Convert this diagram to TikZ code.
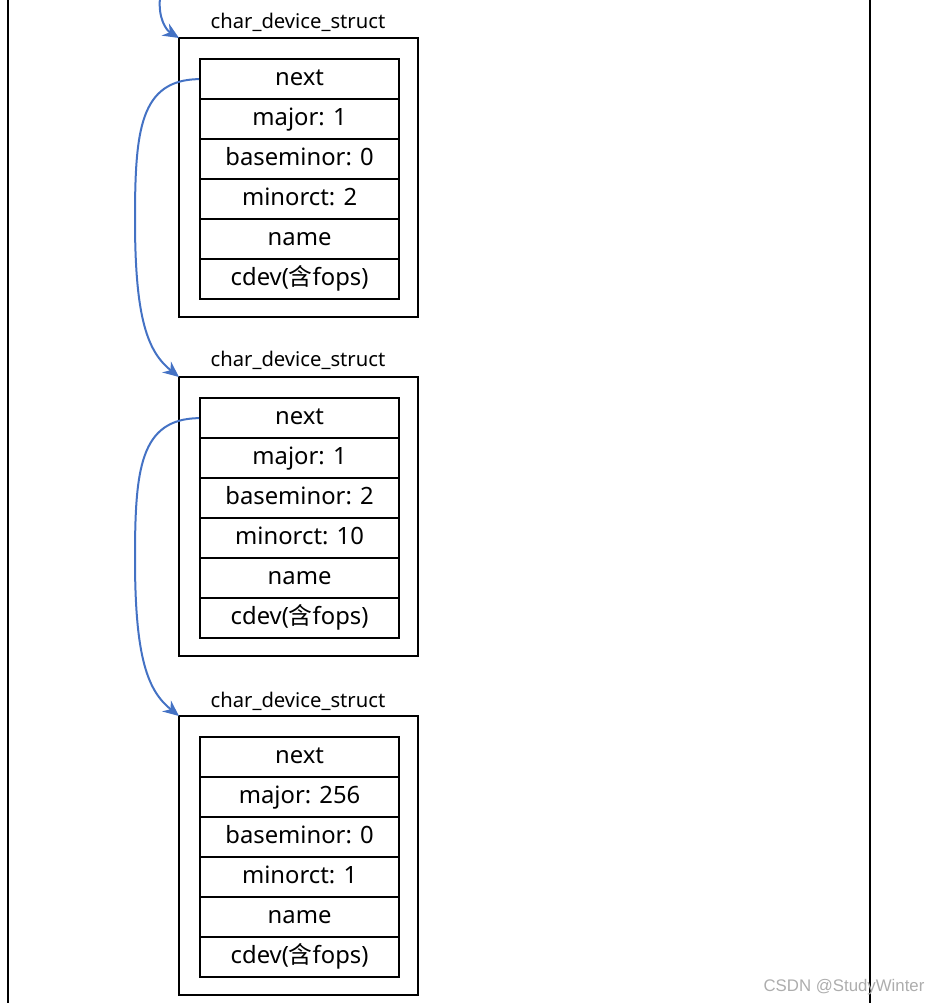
\documentclass[tikz,border=0pt]{standalone}
\usepackage{fontspec}
\setmainfont{Noto Sans}
\newfontfamily\cjk{Noto Sans CJK SC}
\newfontfamily\wmfont{Liberation Sans}
\usetikzlibrary{arrows.meta}
\definecolor{arrowblue}{HTML}{4472C4}
\tikzset{
  cell/.style={draw=black, line width=2.2pt, minimum width=199pt, minimum height=40pt, inner sep=0pt, text height=17pt, text depth=5pt, font=\fontsize{23.8}{25}\selectfont, anchor=north west},
  outerbox/.style={draw=black, line width=2.6pt},
  title/.style={font=\fontsize{20.2}{22}\selectfont, inner sep=0pt},
  link/.style={draw=arrowblue, line width=2pt, -{Stealth[length=16pt,width=14pt]}},
  border/.style={draw=black, line width=2pt}
}
\begin{document}
\begin{tikzpicture}[x=1pt,y=-1pt]
\useasboundingbox (0,0) rectangle (928,1003);
\draw[border] (8,0) -- (8,1003);
\draw[border] (870,0) -- (870,1003);
% struct 1
\node[title] (t1) at (298,22) {char\_device\_struct};
\draw[outerbox] (179,38) rectangle (418,317);
\coordinate (b1) at (179,38);
\node[cell] (a1) at (199,58) {next};
\node[cell] (a2) at (199,98) {major: 1};
\node[cell] (a3) at (199,138) {baseminor: 0};
\node[cell] (a4) at (199,178) {minorct: 2};
\node[cell] (a5) at (199,218) {name};
\node[cell] (a6) at (199,258) {cdev({\cjk 含}fops)};
% struct 2
\node[title] (t2) at (298,360) {char\_device\_struct};
\draw[outerbox] (179,377) rectangle (418,656);
\coordinate (b2) at (179,377);
\node[cell] (c1) at (199,397) {next};
\node[cell] (c2) at (199,437) {major: 1};
\node[cell] (c3) at (199,477) {baseminor: 2};
\node[cell] (c4) at (199,517) {minorct: 10};
\node[cell] (c5) at (199,557) {name};
\node[cell] (c6) at (199,597) {cdev({\cjk 含}fops)};
% struct 3
\node[title] (t3) at (298,701) {char\_device\_struct};
\draw[outerbox] (179,716) rectangle (418,995);
\coordinate (b3) at (179,716);
\node[cell] (d1) at (199,736) {next};
\node[cell] (d2) at (199,776) {major: 256};
\node[cell] (d3) at (199,816) {baseminor: 0};
\node[cell] (d4) at (199,856) {minorct: 1};
\node[cell] (d5) at (199,896) {name};
\node[cell] (d6) at (199,936) {cdev({\cjk 含}fops)};
% links
\coordinate (top) at (160,-2);
\draw[link] (top) .. controls (158,18) and (166,30) .. (b1);
\draw[link] (a1.west) .. controls (140,80) and (135,130) .. (135,220) .. controls (135,320) and (148,352) .. (b2);
\draw[link] (c1.west) .. controls (140,419) and (135,469) .. (135,559) .. controls (135,659) and (148,691) .. (b3);
% watermark
\node[font=\wmfont\fontsize{16.8}{18}\selectfont, text=black!32, inner sep=0pt] (wm) at (844,987) {CSDN @StudyWinter};
\end{tikzpicture}
\end{document}
